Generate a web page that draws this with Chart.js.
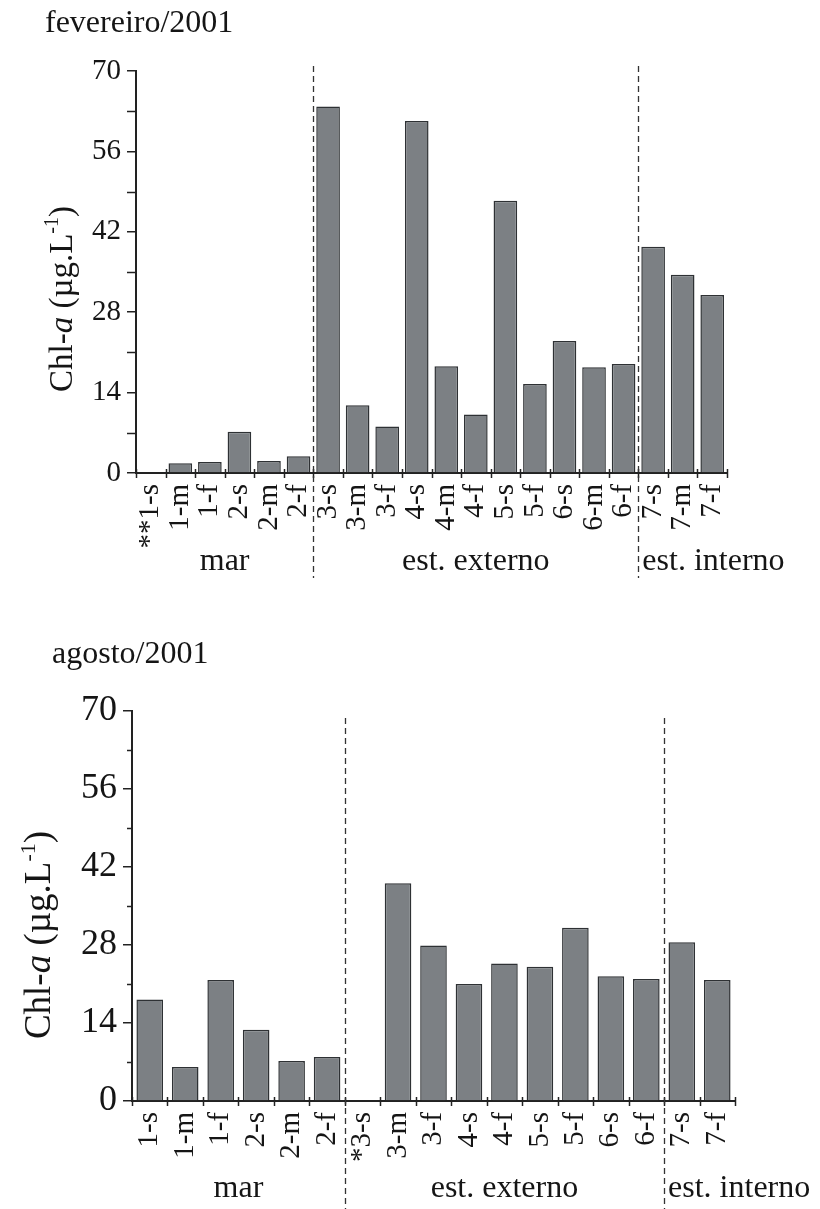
<!DOCTYPE html>
<html><head><meta charset="utf-8">
<script src="https://cdn.jsdelivr.net/npm/chart.js@4"></script>
<style>
body{margin:0;background:#fff;width:820px;height:1209px;position:relative;overflow:hidden}
.wrap{position:absolute;left:0;width:820px}
#w1{top:0;height:620px}
#w2{top:620px;height:589px}
canvas{display:block}
</style></head><body>
<div class="wrap" id="w1"><canvas id="c1" width="820" height="620"></canvas></div>
<div class="wrap" id="w2"><canvas id="c2" width="820" height="589"></canvas></div>
<script>
// ---- data ----
const febCategories = ['**1-s','1-m','1-f','2-s','2-m','2-f','3-s','3-m','3-f','4-s','4-m','4-f','5-s','5-f','6-s','6-m','6-f','7-s','7-m','7-f'];
const febValues = [0, 1.7, 1.9, 7.2, 2.1, 2.9, 63.8, 11.8, 8.1, 61.3, 18.6, 10.2, 47.4, 15.5, 23.0, 18.4, 19.0, 39.4, 34.5, 31.0];
const augCategories = ['1-s','1-m','1-f','2-s','2-m','2-f','*3-s','3-m','3-f','4-s','4-f','5-s','5-f','6-s','6-f','7-s','7-f'];
const augValues = [18.2, 6.1, 21.7, 12.8, 7.2, 7.9, 0, 39.1, 27.9, 21.0, 24.7, 24.1, 31.1, 22.4, 21.9, 28.5, 21.7];
const groupNames = ['mar','est. externo','est. interno'];
const febGroupSizes = [6, 11, 3];
const augGroupSizes = [6, 9, 2];
const yMin = 0, yMax = 70, yStep = 14, yMinorStep = 7;
const febTitle = 'fevereiro/2001';
const augTitle = 'agosto/2001';

const SERIF = '"Liberation Serif","DejaVu Serif",serif';
const INK = '#151515';

function decorPlugin(cfg){
  return {
    id:'decor',
    afterDraw(chart){
      const ctx = chart.ctx, ca = chart.chartArea;
      const xs = chart.scales.x, ys = chart.scales.y;
      const n = chart.data.labels.length;
      const cw = (xs.right - xs.left) / n;
      ctx.save();
      // title
      ctx.fillStyle = INK;
      ctx.font = cfg.titleSize + 'px ' + SERIF;
      ctx.textAlign = 'left'; ctx.textBaseline = 'alphabetic';
      ctx.fillText(cfg.title, cfg.titleX, cfg.titleY);
      // y minor ticks
      ctx.strokeStyle = '#222'; ctx.lineWidth = 1.5;
      for (let v = yMin + yMinorStep; v < yMax; v += yStep) {
        const py = Math.round(ys.getPixelForValue(v)) + 0.5;
        ctx.beginPath(); ctx.moveTo(ca.left - cfg.minorLen, py); ctx.lineTo(ca.left, py); ctx.stroke();
      }
      // x ticks at category boundaries, crossing axis
      for (let i = 0; i <= n; i++) {
        const px = Math.round(xs.getPixelForValue(i) - cw / 2) + 0.5;
        ctx.beginPath(); ctx.moveTo(px, ca.bottom - 4); ctx.lineTo(px, ca.bottom + 5); ctx.stroke();
      }
      // dashed group separators + group labels
      let start = 0;
      const bounds = [];
      cfg.groups.forEach(sz => { bounds.push([start, start + sz]); start += sz; });
      ctx.setLineDash([6, 4]); ctx.strokeStyle = '#333'; ctx.lineWidth = 1.3;
      for (let g = 1; g < bounds.length; g++) {
        const px = Math.round(xs.getPixelForValue(bounds[g][0]) - cw / 2) + 0.5;
        ctx.beginPath(); ctx.moveTo(px, cfg.dashTop); ctx.lineTo(px, cfg.dashBottom); ctx.stroke();
      }
      ctx.setLineDash([]);
      ctx.font = cfg.groupSize + 'px ' + SERIF;
      ctx.fillStyle = INK;
      bounds.forEach((b, g) => {
        const x0 = xs.getPixelForValue(b[0]) - cw / 2;
        const x1 = xs.getPixelForValue(b[1] - 1) + cw / 2;
        if (g === bounds.length - 1) {
          ctx.textAlign = 'left';
          ctx.fillText(groupNames[g], x0 + 4, cfg.groupY);
        } else {
          ctx.textAlign = 'center';
          ctx.fillText(groupNames[g], (x0 + x1) / 2, cfg.groupY);
        }
      });
      // y axis title: Chl-a (µg.L-1)
      const fs = cfg.yTitleSize;
      const parts = [
        {t:'Chl-', f: fs + 'px ' + SERIF, dy:0},
        {t:'a', f: 'italic ' + fs + 'px ' + SERIF, dy:0},
        {t:' (\u00b5g.L', f: fs + 'px ' + SERIF, dy:0},
        {t:'-1', f: Math.round(fs*0.6) + 'px ' + SERIF, dy:-fs*0.42},
        {t:')', f: fs + 'px ' + SERIF, dy:0}
      ];
      let total = 0;
      parts.forEach(p => { ctx.font = p.f; p.w = ctx.measureText(p.t).width; total += p.w; });
      ctx.translate(cfg.yTitleX, (ca.top + ca.bottom) / 2 + cfg.yTitleShift);
      ctx.rotate(-Math.PI / 2);
      ctx.textAlign = 'left'; ctx.textBaseline = 'alphabetic';
      let x = -total / 2;
      parts.forEach(p => { ctx.font = p.f; ctx.fillText(p.t, x, fs * 0.33 + p.dy); x += p.w; });
      ctx.restore();
    }
  };
}

function makeChart(id, labels, values, cfg){
  const H = cfg.height;
  const xAxisH = 100;
  return new Chart(document.getElementById(id), {
    type:'bar',
    data:{ labels: labels, datasets:[{
      data: values,
      backgroundColor:'#7c8084',
      borderColor:'#2e3134',
      borderWidth:1.5,
      borderSkipped:'bottom',
      categoryPercentage:1,
      barPercentage:cfg.barPct
    }]},
    options:{
      responsive:false, animation:false,
      layout:{ padding:{ left:0, top:cfg.area.top, right:820 - cfg.area.right, bottom:H - cfg.area.bottom - xAxisH } },
      plugins:{ legend:{display:false}, tooltip:{enabled:false}, title:{display:false} },
      scales:{
        x:{
          offset:true,
          grid:{ display:false },
          border:{ display:true, color:'#222', width:2 },
          ticks:{ autoSkip:false, maxRotation:90, minRotation:90, color:INK, padding:3,
                  font:{ family:SERIF, size:cfg.catSize } },
          afterFit(s){ s.height = xAxisH; }
        },
        y:{
          min:yMin, max:yMax,
          grid:{ drawOnChartArea:false, drawTicks:true, tickLength:cfg.majorLen, color:'#222', lineWidth:1.5 },
          border:{ display:true, color:'#222', width:2 },
          ticks:{ stepSize:yStep, color:INK, padding:6, font:{ family:SERIF, size:cfg.tickSize } },
          afterFit(s){ s.width = cfg.area.left; }
        }
      }
    },
    plugins:[decorPlugin(cfg)]
  });
}

makeChart('c1', febCategories, febValues, {
  height:620, area:{left:136, right:727, top:71, bottom:473},
  barPct:0.8, catSize:29, tickSize:29, majorLen:9, minorLen:9,
  title:febTitle, titleX:45, titleY:32, titleSize:32,
  groups:febGroupSizes, groupY:570, groupSize:32,
  dashTop:66, dashBottom:578,
  yTitleX:61, yTitleShift:27, yTitleSize:33
});
makeChart('c2', augCategories, augValues, {
  height:589, area:{left:132, right:735, top:91, bottom:481},
  barPct:0.75, catSize:29, tickSize:36, majorLen:9, minorLen:5,
  title:augTitle, titleX:52, titleY:43, titleSize:32,
  groups:augGroupSizes, groupY:577, groupSize:32,
  dashTop:98, dashBottom:589,
  yTitleX:38, yTitleShift:29, yTitleSize:37
});
</script>
</body></html>
